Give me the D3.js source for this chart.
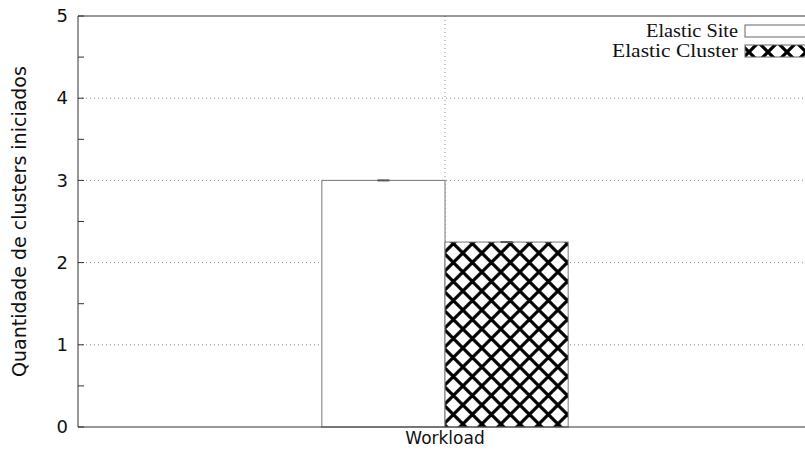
<!DOCTYPE html>
<html>
<head>
<meta charset="utf-8">
<script src="https://cdn.jsdelivr.net/npm/d3@7"></script>
<style>
  body { margin: 0; background: #fff; }
  svg { display: block; }
  .tick text { font-family: "DejaVu Sans", sans-serif; }
</style>
</head>
<body>
<div id="chart"></div>
<script>
// data
var categories = ['Workload'];
var seriesNames = ['Elastic Site', 'Elastic Cluster'];
var seriesValues = [3, 2.25];
var seriesErrors = [0.005, 0.01];
var yTicks = [0, 1, 2, 3, 4, 5];

var W = 805, H = 452;
var margin = {left: 78, top: 16, right: -7, bottom: 25};
var plotW = W - margin.left - margin.right,
    plotH = H - margin.top - margin.bottom;

var svg = d3.select('#chart').append('svg')
    .attr('width', W).attr('height', H);

// crosshatch patterns (bar and legend sample)
var defs = svg.append('defs');
function hatch(id, ox, oy) {
  var p = defs.append('pattern')
      .attr('id', id)
      .attr('patternUnits', 'userSpaceOnUse')
      .attr('width', 19).attr('height', 19)
      .attr('x', ox).attr('y', oy);
  p.append('rect').attr('width', 19).attr('height', 19).attr('fill', '#fff');
  p.append('path')
      .attr('d', 'M-2,-2L21,21M21,-2L-2,21')
      .attr('stroke', '#000').attr('stroke-width', 3.2);
}
hatch('xhatch', 445, 427);
hatch('xhatchL', 745, 45);

var g = svg.append('g')
    .attr('transform', 'translate(' + margin.left + ',' + margin.top + ')');

var y = d3.scaleLinear().domain([0, 5]).range([plotH, 0]);
var x0 = d3.scaleBand().domain(categories).range([0, plotW]).paddingOuter(0.99);
var x1 = d3.scaleBand().domain(seriesNames).range([0, x0.bandwidth()]);

// grid
g.selectAll('.hgrid').data(yTicks.filter(function(d){ return d > 0 && d < 5; }))
  .enter().append('line')
    .attr('x1', 0).attr('x2', plotW)
    .attr('y1', d => y(d)).attr('y2', d => y(d))
    .attr('stroke', '#888').attr('stroke-width', 1)
    .attr('stroke-dasharray', '1,3');
g.selectAll('.vgrid').data(categories).enter().append('line')
    .attr('x1', d => x0(d) + x0.bandwidth() / 2)
    .attr('x2', d => x0(d) + x0.bandwidth() / 2)
    .attr('y1', 0).attr('y2', plotH)
    .attr('stroke', '#888').attr('stroke-width', 1)
    .attr('stroke-dasharray', '1,3');

// bars
var bars = seriesNames.map(function(s, i){
  return {name: s, value: seriesValues[i], err: seriesErrors[i], i: i};
});
var grp = g.selectAll('.grp').data(categories).enter().append('g')
    .attr('transform', d => 'translate(' + x0(d) + ',0)');
grp.selectAll('rect').data(bars)
  .enter().append('rect')
    .attr('x', d => x1(d.name))
    .attr('y', d => y(d.value))
    .attr('width', x1.bandwidth())
    .attr('height', d => plotH - y(d.value))
    .attr('fill', d => d.i === 0 ? '#fff' : 'url(#xhatch)')
    .attr('stroke', '#777').attr('stroke-width', 1);
grp.selectAll('.err').data(bars)
  .enter().append('line')
    .attr('x1', d => x1(d.name) + x1.bandwidth() / 2 - 6)
    .attr('x2', d => x1(d.name) + x1.bandwidth() / 2 + 6)
    .attr('y1', d => y(d.value)).attr('y2', d => y(d.value))
    .attr('stroke', '#555').attr('stroke-width', 2);

// border
g.append('path')
    .attr('d', 'M' + plotW + ',0H0V' + plotH + 'H' + plotW)
    .attr('fill', 'none').attr('stroke', '#333').attr('stroke-width', 1);

// y axis
var yAxis = d3.axisLeft(y).tickValues(yTicks).tickFormat(d3.format('d'))
    .tickSize(0).tickPadding(10);
var ya = g.append('g').call(yAxis);
ya.select('.domain').remove();
ya.selectAll('text').attr('font-size', 18).attr('fill', '#111');
g.selectAll('.minor').data(d3.range(0, 5.01, 0.5)).enter().append('line')
    .attr('x1', 0).attr('x2', 6)
    .attr('y1', d => y(d)).attr('y2', d => y(d))
    .attr('stroke', '#333');

// x axis
var xa = g.append('g').attr('transform', 'translate(0,' + plotH + ')')
    .call(d3.axisBottom(x0).tickSize(0).tickPadding(5));
xa.select('.domain').remove();
xa.selectAll('text').attr('font-size', 17).attr('fill', '#111');

// y label
svg.append('text')
    .attr('transform', 'translate(26,' + (margin.top + plotH / 2) + ') rotate(-90)')
    .attr('text-anchor', 'middle')
    .attr('font-family', '"DejaVu Sans", sans-serif')
    .attr('font-size', 19).attr('fill', '#111')
    .text('Quantidade de clusters iniciados');

// legend
var leg = svg.append('g').selectAll('g').data(seriesNames).enter().append('g')
    .attr('transform', (d, i) => 'translate(745,' + (25 + i * 20) + ')');
leg.append('rect')
    .attr('width', 66).attr('height', 12)
    .attr('fill', (d, i) => i === 0 ? '#fff' : 'url(#xhatchL)')
    .attr('stroke', '#666');
leg.append('text')
    .attr('x', -7).attr('y', 12)
    .attr('text-anchor', 'end')
    .attr('font-family', '"Liberation Serif", serif')
    .attr('font-size', 18.5).attr('fill', '#111')
    .attr('textLength', (d, i) => i === 0 ? 92 : 126)
    .attr('lengthAdjust', 'spacingAndGlyphs')
    .text(d => d);
</script>
</body>
</html>
